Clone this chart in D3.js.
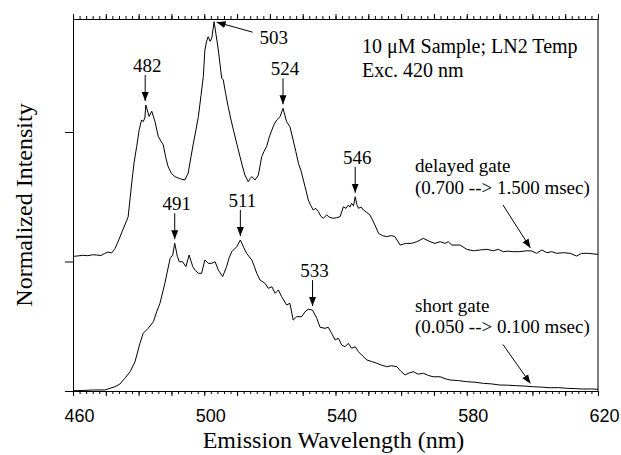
<!DOCTYPE html>
<html>
<head>
<meta charset="utf-8">
<script src="https://cdn.jsdelivr.net/npm/d3@7"></script>
<style>
  html, body { margin: 0; padding: 0; background: #fff; }
  svg { display: block; }
</style>
</head>
<body>
<script>
// Emission spectra (nm vs normalized intensity), delayed gate offset by +1 unit
const delayedNm = [460.0,461.5,463.0,464.5,466.0,467.2,468.5,469.5,470.7,471.8,472.8,473.7,474.8,475.8,476.8,477.9,478.6,479.4,480.2,480.9,481.4,481.9,482.2,483.2,484.0,485.0,486.0,486.8,487.5,488.3,489.0,490.0,491.1,492.5,494.1,495.1,495.9,496.7,497.5,498.2,499.0,499.7,500.2,500.7,501.2,501.8,502.3,503.0,503.6,504.3,505.3,505.8,506.5,507.3,508.1,508.9,510.0,510.9,511.7,512.4,513.4,514.0,514.5,515.5,516.5,517.5,518.2,519.0,519.8,520.6,521.3,522.1,523.1,524.0,525.1,526.1,527.1,527.9,528.7,529.5,530.2,531.0,531.7,532.5,533.2,534.0,534.8,535.5,536.3,537.3,538.3,539.3,540.3,541.4,542.4,543.2,543.9,544.4,544.9,545.5,546.0,546.5,547.0,547.8,548.5,549.5,550.5,551.3,552.0,553.1,554.3,555.6,557.0,558.1,559.7,560.7,561.7,563.2,564.8,566.8,568.8,570.3,571.9,573.4,574.4,575.4,578.0,580.0,582.0,584.0,586.1,588.1,589.6,591.1,592.5,594.2,596.2,598.3,599.8,601.3,602.9,604.4,605.9,607.4,609.4,611.5,613.5,615.0,617.0,620.0];
const delayedVal = [1.040,1.043,1.048,1.045,1.052,1.050,1.046,1.060,1.073,1.066,1.100,1.151,1.220,1.282,1.344,1.606,1.760,1.887,2.020,2.093,2.080,2.108,2.208,2.120,2.160,2.080,1.964,1.930,1.900,1.800,1.732,1.680,1.655,1.640,1.629,1.683,1.800,1.915,2.020,2.118,2.280,2.427,2.633,2.700,2.736,2.700,2.726,2.852,2.750,2.633,2.417,2.402,2.300,2.195,2.100,2.015,1.900,1.809,1.730,1.668,1.616,1.640,1.655,1.629,1.668,1.809,1.850,1.887,1.960,2.015,2.060,2.093,2.118,2.183,2.080,2.041,1.938,1.850,1.758,1.700,1.629,1.550,1.475,1.430,1.398,1.410,1.385,1.350,1.334,1.359,1.340,1.334,1.338,1.346,1.423,1.410,1.436,1.420,1.449,1.430,1.500,1.440,1.411,1.420,1.398,1.380,1.359,1.320,1.282,1.218,1.200,1.192,1.200,1.192,1.127,1.135,1.140,1.140,1.153,1.179,1.153,1.140,1.153,1.140,1.153,1.127,1.127,1.094,1.083,1.089,1.094,1.083,1.094,1.076,1.080,1.076,1.076,1.083,1.081,1.063,1.089,1.068,1.076,1.063,1.068,1.063,1.042,1.063,1.063,1.055];

const shortNm = [460.0,463.0,466.2,469.8,471.3,472.8,474.3,475.8,477.4,478.9,480.4,481.4,482.9,484.5,485.5,486.5,488.0,489.6,490.4,491.0,491.8,492.4,493.4,494.4,495.4,496.5,497.3,498.2,499.2,500.2,501.2,502.3,503.3,504.3,505.6,506.8,507.6,508.4,509.9,511.0,512.0,512.9,514.5,515.3,516.0,517.0,518.5,519.5,520.6,521.6,522.6,523.6,525.1,526.1,527.1,528.2,529.7,530.7,531.7,533.0,534.3,535.3,536.8,537.8,538.8,539.9,540.9,541.9,542.9,543.9,544.9,546.0,547.0,548.3,549.6,551.0,552.6,554.0,555.6,557.0,558.7,560.0,561.2,562.5,563.7,565.2,566.8,568.3,569.8,571.9,573.4,574.9,577.5,580.0,582.5,585.1,587.5,590.1,592.5,595.2,597.7,600.3,602.8,605.4,608.0,610.5,613.0,615.5,618.0,620.0];
const shortVal = [0.002,0.004,0.008,0.008,0.021,0.033,0.054,0.098,0.149,0.226,0.368,0.446,0.484,0.535,0.612,0.677,0.832,1.025,1.050,1.141,1.040,0.998,0.998,0.960,1.050,0.960,0.930,0.909,0.909,1.012,0.986,0.986,0.998,0.934,0.883,0.960,1.030,1.076,1.114,1.166,1.110,1.063,1.012,0.960,0.909,0.857,0.832,0.793,0.805,0.754,0.780,0.728,0.664,0.677,0.548,0.574,0.574,0.612,0.631,0.625,0.561,0.492,0.484,0.492,0.446,0.394,0.407,0.355,0.342,0.368,0.330,0.342,0.303,0.270,0.239,0.228,0.214,0.200,0.188,0.195,0.188,0.150,0.124,0.140,0.149,0.130,0.137,0.120,0.110,0.110,0.095,0.085,0.080,0.072,0.068,0.059,0.055,0.046,0.045,0.041,0.038,0.033,0.030,0.025,0.026,0.021,0.018,0.015,0.016,0.013];

// Labelled peak positions (nm)
const delayedPeaks = [482, 524, 546];
const delayedMainPeak = 503;
const shortPeaks = [491, 511, 533];

const xTickLabels = [460, 500, 540, 580, 620];
const yTicks = [0, 1, 2];
const xDomain = [460, 620];
const yDomain = [0, 2.8726];

const W = 621, H = 455;
const M = { left: 73, right: 598, top: 19, bottom: 391 };

const svg = d3.select("body").append("svg")
  .attr("width", W).attr("height", H)
  .style("background", "#fff");

const x = d3.scaleLinear().domain(xDomain).range([M.left, M.right]);
const y = d3.scaleLinear().domain(yDomain).range([M.bottom, M.top]);

function stext(size) {
  return svg.append("text")
    .style("font-family", '"Liberation Serif"')
    .style("font-size", size + "px")
    .attr("fill", "#000");
}

// Arrowhead
svg.append("defs").append("marker")
  .attr("id", "ah").attr("viewBox", "0 -4 9 8")
  .attr("refX", 9).attr("refY", 0)
  .attr("markerUnits", "userSpaceOnUse")
  .attr("markerWidth", 9).attr("markerHeight", 8)
  .attr("orient", "auto")
  .append("path").attr("d", "M0,-3.5L9,0L0,3.5Z").attr("fill", "#000");

// Axes: bottom and top with minor (2 nm) and major (10 nm) ticks
const minorT = d3.range(460, 620.1, 2);
const majorT = d3.range(460, 620.1, 10);
function styleAxis(g) {
  g.selectAll("path,line").attr("stroke", "#000").attr("stroke-width", 1);
  g.selectAll("text").remove();
}
svg.append("g").attr("transform", `translate(0,${M.bottom})`)
  .call(d3.axisBottom(x).tickValues(minorT).tickSize(3).tickSizeOuter(0)).call(styleAxis);
svg.append("g").attr("transform", `translate(0,${M.bottom})`)
  .call(d3.axisBottom(x).tickValues(majorT).tickSize(5).tickSizeOuter(0)).call(styleAxis);
svg.append("g").attr("transform", `translate(0,${M.top})`)
  .call(d3.axisTop(x).tickValues(minorT).tickSize(3).tickSizeOuter(0)).call(styleAxis);
svg.append("g").attr("transform", `translate(0,${M.top})`)
  .call(d3.axisTop(x).tickValues(majorT).tickSize(5).tickSizeOuter(0)).call(styleAxis);

// Bottom tick labels
const lab = svg.append("g").attr("transform", `translate(0,${M.bottom})`)
  .call(d3.axisBottom(x).tickValues(xTickLabels).tickSize(0).tickPadding(0).tickFormat(d3.format("d")));
lab.select(".domain").remove();
lab.selectAll("text")
  .style("font-family", '"Liberation Sans"').style("font-size", "18px").attr("fill", "#000")
  .attr("dy", null).attr("y", 30.5).attr("dx", 6);

// Left axis
svg.append("g").attr("transform", `translate(${M.left},0)`)
  .call(d3.axisLeft(y).tickValues(yTicks).tickSize(8).tickSizeOuter(0)).call(styleAxis);
// Right border
svg.append("line")
  .attr("x1", M.right).attr("x2", M.right).attr("y1", M.top).attr("y2", M.bottom)
  .attr("stroke", "#000").attr("stroke-width", 1);

// Axis titles
stext(24)
  .attr("x", (M.left + M.right) / 2 - 2).attr("y", 448)
  .attr("text-anchor", "middle")
  .text("Emission Wavelength (nm)");
stext(24)
  .attr("transform", `translate(32,${(M.top + M.bottom) / 2}) rotate(-90)`)
  .attr("text-anchor", "middle")
  .text("Normalized Intensity");

// Curves
const line = d3.line().x(d => x(d[0])).y(d => y(d[1]));
const delayed = delayedNm.map((n, i) => [n, delayedVal[i]]);
const short = shortNm.map((n, i) => [n, shortVal[i]]);
[delayed, short].forEach(s => {
  svg.append("path").datum(s).attr("d", line)
    .attr("fill", "none").attr("stroke", "#000").attr("stroke-width", 1)
    .attr("stroke-linejoin", "round");
});

// Local maximum of a series near a wavelength
function peakVal(series, nm, half = 1.2) {
  return d3.max(series.filter(d => Math.abs(d[0] - nm) <= half), d => d[1]);
}
function interp(series, nm) {
  const i = d3.bisector(d => d[0]).left(series, nm);
  const a = series[Math.max(0, i - 1)], b = series[Math.min(series.length - 1, i)];
  if (b[0] === a[0]) return a[1];
  return a[1] + (b[1] - a[1]) * (nm - a[0]) / (b[0] - a[0]);
}

// Vertical peak arrows with labels
function peakArrow(series, nm) {
  const tip = y(peakVal(series, nm)) - 4;
  const px = x(nm);
  svg.append("line")
    .attr("x1", px).attr("x2", px).attr("y1", tip - 26).attr("y2", tip)
    .attr("stroke", "#000").attr("stroke-width", 1).attr("marker-end", "url(#ah)");
  stext(19)
    .attr("x", px + 2).attr("y", tip - 29)
    .attr("text-anchor", "middle")
    .text(nm);
}
delayedPeaks.forEach(p => peakArrow(delayed, p));
shortPeaks.forEach(p => peakArrow(short, p));

// Main peak label with a slanted arrow
{
  const tx = x(delayedMainPeak) + 2.5, ty = y(peakVal(delayed, delayedMainPeak)) + 0.5;
  svg.append("line")
    .attr("x1", tx + 36).attr("y1", ty + 10).attr("x2", tx).attr("y2", ty)
    .attr("stroke", "#000").attr("stroke-width", 1).attr("marker-end", "url(#ah)");
  stext(19)
    .attr("x", tx + 43).attr("y", ty + 21.5)
    .text(delayedMainPeak);
}

// Sample conditions
stext(20).attr("x", 362).attr("y", 53).text("10 \u03BCM Sample; LN2 Temp");
stext(20).attr("x", 362).attr("y", 77).text("Exc. 420 nm");

// Gate annotations
const gateNm = 599.4;
function gateNote(series, lines, baseY) {
  lines.forEach((t, i) => {
    stext(19).attr("x", 415).attr("y", baseY + i * 21.5).text(t);
  });
  const tipY = y(interp(series, gateNm)) - 3;
  svg.append("line")
    .attr("x1", 503).attr("y1", baseY + 33).attr("x2", x(gateNm)).attr("y2", tipY)
    .attr("stroke", "#000").attr("stroke-width", 1).attr("marker-end", "url(#ah)");
}
gateNote(delayed, ["delayed gate", "(0.700 --> 1.500 msec)"], 172);
gateNote(short, ["short gate", "(0.050 --> 0.100 msec)"], 311.5);
</script>
</body>
</html>
